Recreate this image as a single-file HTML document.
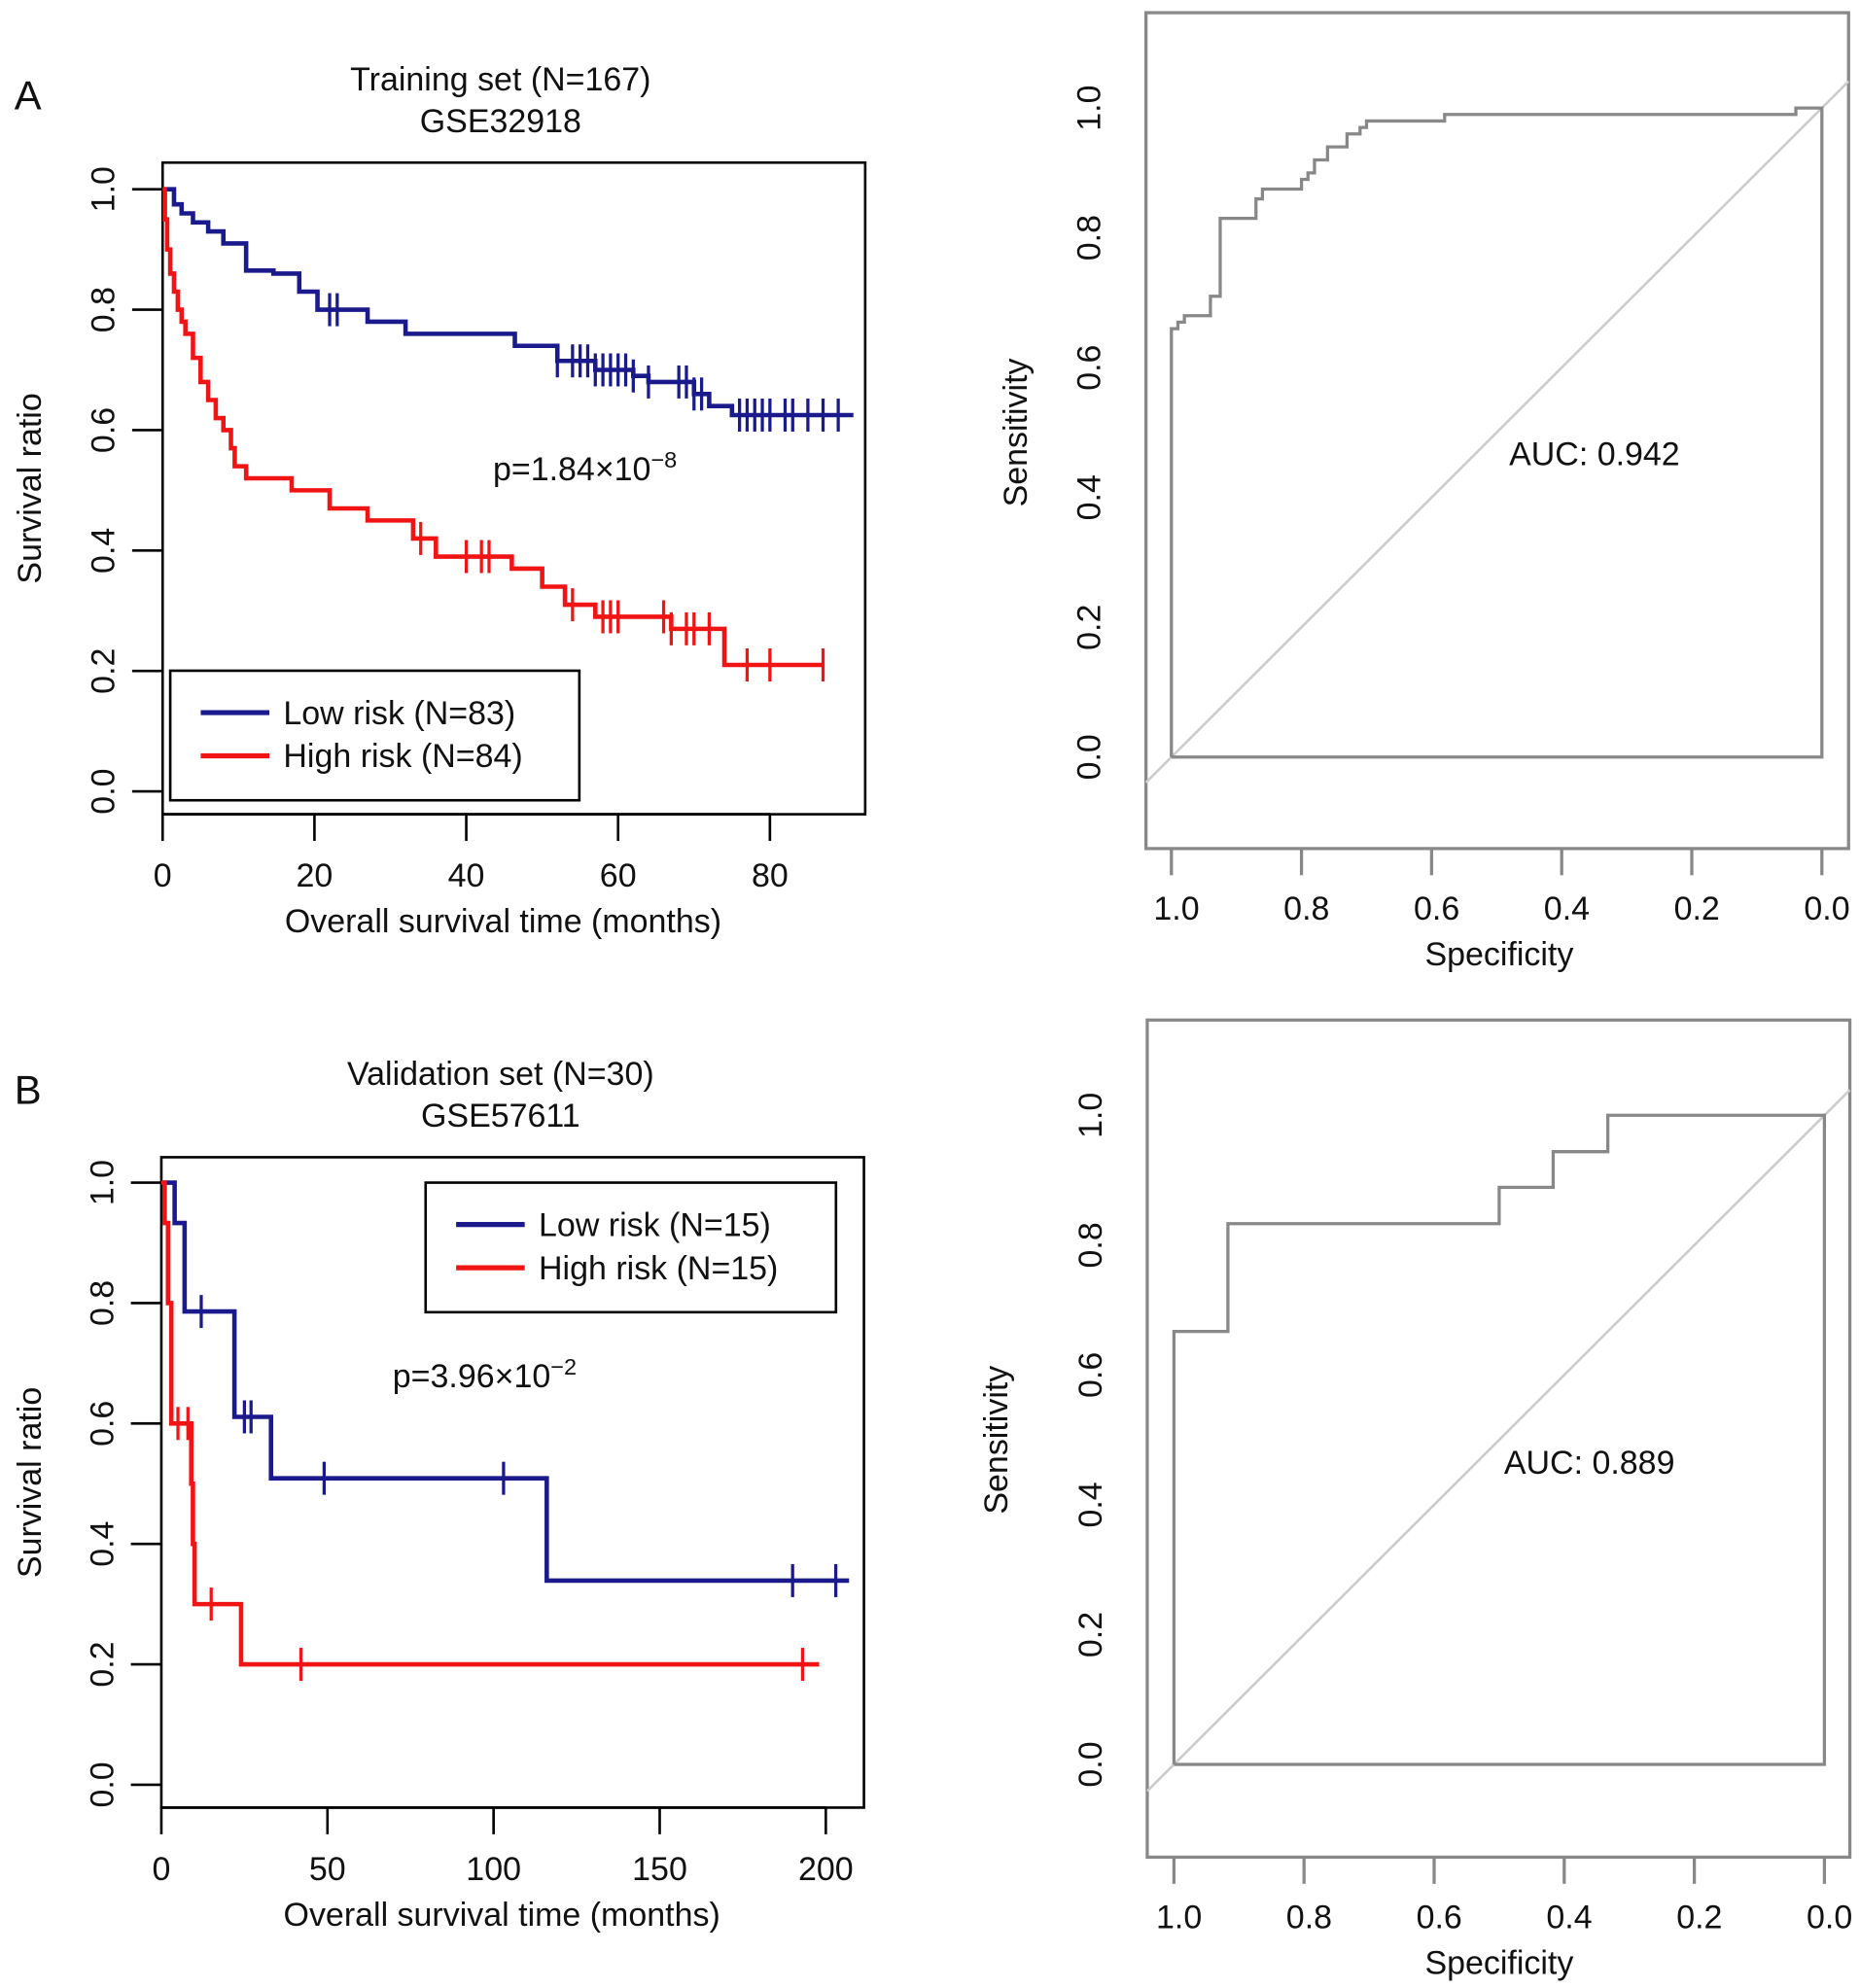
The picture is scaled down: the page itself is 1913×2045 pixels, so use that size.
<!DOCTYPE html>
<html><head><meta charset="utf-8"><style>
html,body{margin:0;padding:0;background:#fff;}
svg{display:block;font-family:"Liberation Sans",Arial,sans-serif;}
</style></head><body>
<svg id="fig" width="1913" height="2045" viewBox="0 0 1464 1565" xmlns="http://www.w3.org/2000/svg">
<rect width="1464" height="1565" fill="#fff"/>
</svg>
<script>
// ---- Panel A KM data ----
const kmA_lowT = [0,1.5,2.5,4,6,8,11,14.6,18,20.4,27,32,46.4,52,57,62,64,70,72,75];
const kmA_lowS = [1,0.975,0.96,0.945,0.93,0.91,0.865,0.86,0.83,0.80,0.78,0.76,0.74,0.715,0.70,0.69,0.68,0.66,0.64,0.625];
const kmA_lowEnd = 91;
const kmA_lowCens = [22,23,52,54,55,56,57,58,59,60,61,62,64,68,69,70,71,76,77,78,79,80,82,83,85,87,89];
const kmA_highT = [0,0.3,0.6,1,1.5,2,2.5,3,4,5,6,7,8,9,9.5,11,17,22,27,33,36,46,50,53,57,67,74];
const kmA_highS = [1,0.95,0.9,0.86,0.83,0.8,0.78,0.76,0.72,0.68,0.65,0.62,0.6,0.57,0.54,0.52,0.5,0.47,0.45,0.42,0.39,0.37,0.34,0.31,0.29,0.27,0.21];
const kmA_highEnd = 87;
const kmA_highCens = [34,40,42,43,54,58,59,60,66,67,69,70,72,77,80,87];
const kmA_xTicks = [0,20,40,60,80];
const km_yTicks = [0,0.2,0.4,0.6,0.8,1.0];
// ---- Panel B KM data ----
const kmB_lowT = [0,4,7,22,33,116];
const kmB_lowS = [1,0.933,0.786,0.611,0.509,0.339];
const kmB_lowEnd = 207;
const kmB_lowCens = [12,25,27,49,103,190,203];
const kmB_highT = [0,1,2,3,9,9.5,10,24];
const kmB_highS = [1,0.933,0.8,0.6,0.5,0.4,0.3,0.2];
const kmB_highEnd = 198;
const kmB_highCens = [5,8,15,42,193];
const kmB_xTicks = [0,50,100,150,200];
// ---- ROC data ----
const rocA_spec = [1,1,0.99,0.99,0.98,0.98,0.94,0.94,0.925,0.925,0.87,0.87,0.86,0.86,0.8,0.8,0.79,0.79,0.78,0.78,0.76,0.76,0.73,0.73,0.71,0.71,0.7,0.7,0.58,0.58,0.04,0.04,0,0,1];
const rocA_sens = [0,0.66,0.66,0.67,0.67,0.68,0.68,0.71,0.71,0.83,0.83,0.86,0.86,0.875,0.875,0.89,0.89,0.9,0.9,0.92,0.92,0.94,0.94,0.96,0.96,0.97,0.97,0.98,0.98,0.99,0.99,1,1,0,0];
const rocB_spec = [1,1,0.917,0.917,0.5,0.5,0.417,0.417,0.333,0.333,0,0,1];
const rocB_sens = [0,0.667,0.667,0.833,0.833,0.889,0.889,0.944,0.944,1,1,0,0];
const roc_ticks = [1.0,0.8,0.6,0.4,0.2,0.0];
const roc_yTicks = [0,0.2,0.4,0.6,0.8,1.0];

const NS="http://www.w3.org/2000/svg";
const svg=document.getElementById('fig');
const FS=26;
function mk(tag,attrs,parent){const e=document.createElementNS(NS,tag);for(const k in attrs)e.setAttribute(k,attrs[k]);(parent||svg).appendChild(e);return e;}
function txt(x,y,s,size,anchor,rot,parent){const t=mk('text',{x:x,y:y,'font-size':size,'text-anchor':anchor||'middle',fill:'#111'},parent);if(rot)t.setAttribute('transform','rotate(-90 '+x+' '+y+')');t.textContent=s;return t;}

function drawKM(cfg){
  const g=mk('g',{});
  
  
  const X=t=>cfg.x0+t*cfg.xs, Y=s=>cfg.y0-s*474;
  const box=mk('rect',{x:cfg.bx,y:cfg.by,width:cfg.bw,height:cfg.bh,fill:'none',stroke:'#000','stroke-width':2},g);
  
  
  km_yTicks.forEach(v=>{mk('line',{x1:cfg.bx-24,x2:cfg.bx,y1:Y(v),y2:Y(v),stroke:'#000','stroke-width':2},g);
    const t=txt(cfg.bx-38,Y(v),v.toFixed(1),FS,'middle',true,g);});
  mk('line',{x1:X(cfg.xt[0]),x2:X(cfg.xt[cfg.xt.length-1]),y1:cfg.by+cfg.bh,y2:cfg.by+cfg.bh,stroke:'#000','stroke-width':2},g);
  cfg.xt.forEach(v=>{mk('line',{x1:X(v),x2:X(v),y1:cfg.by+cfg.bh,y2:cfg.by+cfg.bh+21,stroke:'#000','stroke-width':2},g);
    const t=txt(X(v),cfg.by+cfg.bh+57,String(v),FS,'middle',false,g);});
  const xl=txt(cfg.bx+268,cfg.by+cfg.bh+93,'Overall survival time (months)',FS,'middle',false,g);
  
  const yl=txt(32,cfg.by+cfg.bh/2,'Survival ratio',FS,'middle',true,g);
  
  [[cfg.lowT,cfg.lowS,cfg.lowEnd,cfg.lowC,'#1a1a8c','low-risk-curve'],[cfg.highT,cfg.highS,cfg.highEnd,cfg.highC,'#f01414','high-risk-curve']].forEach(([T,S,end,C,col,nm])=>{
    let d='M'+X(T[0])+','+Y(S[0]);
    for(let i=1;i<T.length;i++){d+=' H'+X(T[i])+' V'+Y(S[i]);}
    d+=' H'+X(end);
    const p=mk('path',{d:d,fill:'none',stroke:col,'stroke-width':3.5},g);
    
    C.forEach(c=>{let s=S[0];for(let i=0;i<T.length;i++)if(T[i]<=c)s=S[i];
      const m=mk('line',{x1:X(c),x2:X(c),y1:Y(s)-13,y2:Y(s)+13,stroke:col,'stroke-width':2.5},g);
      });
  });
  const lg=mk('g',{},g);
  mk('rect',{x:cfg.lx,y:cfg.ly,width:cfg.lw,height:102,fill:'#fff',stroke:'#000','stroke-width':2},lg);
  [['#1a1a8c',cfg.lowLab],['#f01414',cfg.highLab]].forEach(([c,l],i)=>{
    const e=mk('g',{},lg);
    mk('line',{x1:cfg.lx+24,x2:cfg.lx+78,y1:cfg.ly+33+i*34,y2:cfg.ly+33+i*34,stroke:c,'stroke-width':4},e);
    txt(cfg.lx+89,cfg.ly+42+i*34,l,FS,'start',false,e);});
  const pt=mk('text',{x:cfg.px,y:cfg.py,'font-size':FS,fill:'#111'},g);
  
  pt.innerHTML=cfg.ptxt+'<tspan dy="-10" font-size="18">'+cfg.pexp+'</tspan>';
  const t1=txt(cfg.tx,cfg.ty,cfg.title1,FS,'middle',false,g);
  const t2=txt(cfg.tx,cfg.ty+33,cfg.title2,FS,'middle',false,g);
  const pl=txt(22,cfg.labY,cfg.label,32,'middle',false,g);
}

drawKM({name:'km-chart-training',bx:128,by:128,bw:553,bh:513,x0:128,xs:5.975,y0:623,xt:kmA_xTicks,
  lowT:kmA_lowT,lowS:kmA_lowS,lowEnd:kmA_lowEnd,lowC:kmA_lowCens,highT:kmA_highT,highS:kmA_highS,highEnd:kmA_highEnd,highC:kmA_highCens,
  lx:134,ly:528,lw:322,lowLab:'Low risk (N=83)',highLab:'High risk (N=84)',px:388,py:378,ptxt:'p=1.84×10',pexp:'−8',
  tx:394,ty:71,title1:'Training set (N=167)',title2:'GSE32918',label:'A',labY:86});
drawKM({name:'km-chart-validation',bx:127,by:911,bw:553,bh:512,x0:127,xs:2.615,y0:1405,xt:kmB_xTicks,
  lowT:kmB_lowT,lowS:kmB_lowS,lowEnd:kmB_lowEnd,lowC:kmB_lowCens,highT:kmB_highT,highS:kmB_highS,highEnd:kmB_highEnd,highC:kmB_highCens,
  lx:335,ly:931,lw:323,lowLab:'Low risk (N=15)',highLab:'High risk (N=15)',px:309,py:1092,ptxt:'p=3.96×10',pexp:'−2',
  tx:394,ty:854,title1:'Validation set (N=30)',title2:'GSE57611',label:'B',labY:869});

function drawROC(cfg){
  const g=mk('g',{});
  
  
  const XS=s=>cfg.x0+(1-s)*(cfg.x1-cfg.x0), Y=v=>cfg.y0-v*(cfg.y0-cfg.y1);
  const f=mk('rect',{x:cfg.bx,y:cfg.by,width:553,height:cfg.bh,fill:'none',stroke:'#888','stroke-width':2.5},g);
  
  const sL=(cfg.bx-cfg.x0)/(cfg.x1-cfg.x0), sR=(cfg.bx+553-cfg.x0)/(cfg.x1-cfg.x0);
  const dg=mk('line',{x1:cfg.bx,y1:Y(sL),x2:cfg.bx+553,y2:Y(sR),stroke:'#ccc','stroke-width':2},g);
  
  let d='';cfg.spec.forEach((s,i)=>{d+=(i?' L':'M')+XS(s)+','+Y(cfg.sens[i]);});
  const p=mk('path',{d:d,fill:'none',stroke:'#888','stroke-width':2.5},g);
  
  roc_ticks.forEach(v=>{mk('line',{x1:XS(v),x2:XS(v),y1:cfg.by+cfg.bh,y2:cfg.by+cfg.bh+21,stroke:'#888','stroke-width':2.5},g);
    const t=txt(XS(v)+4,cfg.by+cfg.bh+56,v.toFixed(1),FS,'middle',false,g);});
  roc_yTicks.forEach(v=>{const t=txt(cfg.bx-36,Y(v),v.toFixed(1),FS,'middle',true,g);});
  const xl=txt(1180,cfg.by+cfg.bh+92,'Specificity',FS,'middle',false,g);
  const yl=txt(cfg.ylx,Y(0.5),'Sensitivity',FS,'middle',true,g);
  const a=txt(cfg.ax,cfg.ay,cfg.auc,FS,'middle',false,g);
}
drawROC({name:'roc-chart-training',bx:902,by:10,bh:658,x0:922,x1:1434,y0:596,y1:85,spec:rocA_spec,sens:rocA_sens,ylx:808,ax:1255,ay:366,auc:'AUC: 0.942'});
drawROC({name:'roc-chart-validation',bx:903,by:803,bh:659,x0:924,x1:1436,y0:1389,y1:878,spec:rocB_spec,sens:rocB_sens,ylx:793,ax:1251,ay:1160,auc:'AUC: 0.889'});
</script>
</body></html>
